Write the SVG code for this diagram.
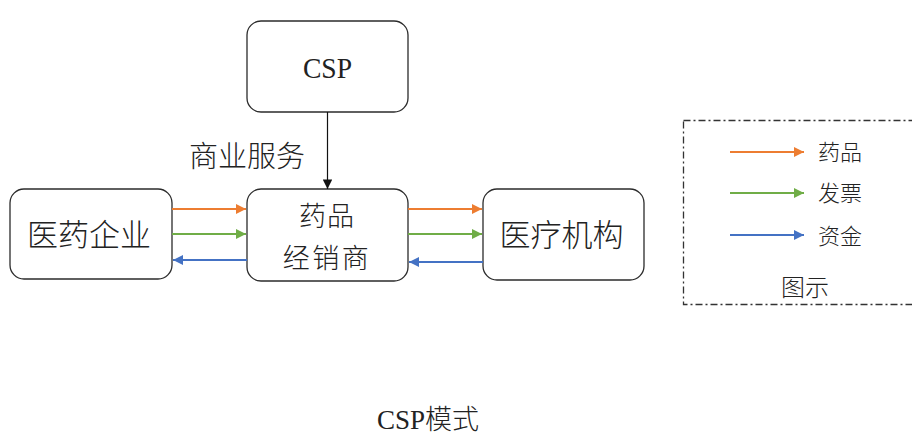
<svg xmlns="http://www.w3.org/2000/svg" width="912" height="436" viewBox="0 0 912 436">
<defs>
<style>
.box{fill:#fff;stroke:#2b2b2b;stroke-width:1.3}
.zh{font-family:"Noto Sans CJK SC","Noto Sans",sans-serif;fill:#222;font-weight:300}
.en{font-family:"Liberation Serif",serif;fill:#222}
.o{stroke:#ED7D31;stroke-width:2;fill:none}
.g{stroke:#70AD47;stroke-width:2;fill:none}
.b{stroke:#4472C4;stroke-width:2;fill:none}
</style>
<marker id="mo" viewBox="0 0 10 10" refX="10" refY="5" markerWidth="5" markerHeight="5" orient="auto"><path d="M0,0L10,5L0,10z" fill="#ED7D31"/></marker>
<marker id="mg" viewBox="0 0 10 10" refX="10" refY="5" markerWidth="5" markerHeight="5" orient="auto"><path d="M0,0L10,5L0,10z" fill="#70AD47"/></marker>
<marker id="mb" viewBox="0 0 10 10" refX="10" refY="5" markerWidth="5" markerHeight="5" orient="auto"><path d="M0,0L10,5L0,10z" fill="#4472C4"/></marker>
<marker id="mk" viewBox="0 0 10 10" refX="10" refY="5" markerWidth="8" markerHeight="8" orient="auto"><path d="M0,0L10,5L0,10z" fill="#111"/></marker>
</defs>
<rect width="912" height="436" fill="#fff"/>
<g id="csp"><rect class="box" x="247" y="21" width="161" height="91" rx="14"/><text class="en" x="327.5" y="78" font-size="30" text-anchor="middle" transform="translate(327.5 0) scale(0.92 1) translate(-327.5 0)">CSP</text></g>
<g id="qiye"><rect class="box" x="10" y="189" width="162" height="90" rx="14"/><text class="zh" x="89" y="246" font-size="31" text-anchor="middle">医药企业</text></g>
<g id="jingxiao"><rect class="box" x="247" y="189" width="161" height="92" rx="14"/><text class="zh" x="327" y="226" font-size="27" text-anchor="middle" letter-spacing="1">药品</text><text class="zh" x="327" y="268" font-size="27" text-anchor="middle" letter-spacing="2.5">经销商</text></g>
<g id="yiliao"><rect class="box" x="483" y="189" width="161" height="91" rx="14"/><text class="zh" x="561.5" y="246" font-size="31" text-anchor="middle">医疗机构</text></g>
<g id="legend"><rect x="683.5" y="120.5" width="240" height="184" fill="none" stroke="#333" stroke-width="1.3" stroke-dasharray="7,3,2,3"/>
<line class="o" x1="730" y1="152" x2="804" y2="152" marker-end="url(#mo)"/><text class="zh" x="818" y="160" font-size="22">药品</text>
<line class="g" x1="730" y1="193" x2="804" y2="193" marker-end="url(#mg)"/><text class="zh" x="818" y="201" font-size="22">发票</text>
<line class="b" x1="730" y1="235" x2="804" y2="235" marker-end="url(#mb)"/><text class="zh" x="818" y="244" font-size="22">资金</text>
<text class="zh" x="805" y="296" font-size="24" text-anchor="middle">图示</text></g>
<g id="connectors">
<line x1="327.5" y1="112" x2="327.5" y2="189" stroke="#111" stroke-width="1.2" marker-end="url(#mk)"/>
<line class="o" x1="172" y1="209" x2="246" y2="209" marker-end="url(#mo)"/>
<line class="g" x1="172" y1="234" x2="246" y2="234" marker-end="url(#mg)"/>
<line class="b" x1="247" y1="260" x2="173" y2="260" marker-end="url(#mb)"/>
<line class="o" x1="408" y1="209" x2="482" y2="209" marker-end="url(#mo)"/>
<line class="g" x1="408" y1="234" x2="482" y2="234" marker-end="url(#mg)"/>
<line class="b" x1="483" y1="262" x2="409" y2="262" marker-end="url(#mb)"/>
</g>
<text class="zh" x="247" y="167" font-size="29" text-anchor="middle">商业服务</text>
<text x="428" y="429" font-size="27" text-anchor="middle"><tspan class="en">CSP</tspan><tspan class="zh">模式</tspan></text>
</svg>
